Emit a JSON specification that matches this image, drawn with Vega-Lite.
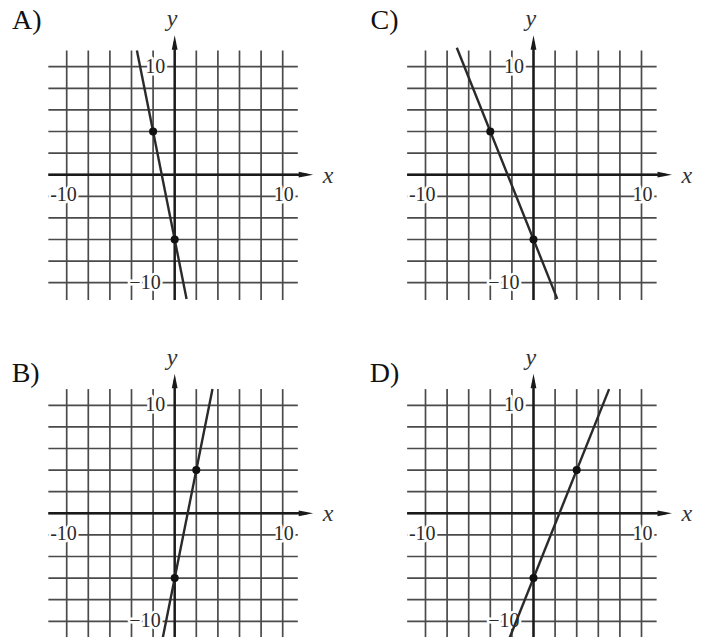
{
  "$schema": "https://vega.github.io/schema/vega-lite/v6.json",
  "padding": 0,
  "background": "white",
  "config": {"view": {"stroke": null}},
  "datasets": {
    "grid": [
      {"x": -10, "y": -11.6, "x2": -10, "y2": 11.5},
      {"x": -8, "y": -11.6, "x2": -8, "y2": 11.5},
      {"x": -6, "y": -11.6, "x2": -6, "y2": 11.5},
      {"x": -4, "y": -11.6, "x2": -4, "y2": 11.5},
      {"x": -2, "y": -11.6, "x2": -2, "y2": 11.5},
      {"x": 0, "y": -11.6, "x2": 0, "y2": 11.5},
      {"x": 2, "y": -11.6, "x2": 2, "y2": 11.5},
      {"x": 4, "y": -11.6, "x2": 4, "y2": 11.5},
      {"x": 6, "y": -11.6, "x2": 6, "y2": 11.5},
      {"x": 8, "y": -11.6, "x2": 8, "y2": 11.5},
      {"x": 10, "y": -11.6, "x2": 10, "y2": 11.5},
      {"x": -11.7, "y": -10, "x2": 11.4, "y2": -10},
      {"x": -11.7, "y": -8, "x2": 11.4, "y2": -8},
      {"x": -11.7, "y": -6, "x2": 11.4, "y2": -6},
      {"x": -11.7, "y": -4, "x2": 11.4, "y2": -4},
      {"x": -11.7, "y": -2, "x2": 11.4, "y2": -2},
      {"x": -11.7, "y": 0, "x2": 11.4, "y2": 0},
      {"x": -11.7, "y": 2, "x2": 11.4, "y2": 2},
      {"x": -11.7, "y": 4, "x2": 11.4, "y2": 4},
      {"x": -11.7, "y": 6, "x2": 11.4, "y2": 6},
      {"x": -11.7, "y": 8, "x2": 11.4, "y2": 8},
      {"x": -11.7, "y": 10, "x2": 11.4, "y2": 10}
    ],
    "axes": [
      {"x": -11.7, "y": 0, "x2": 12.2, "y2": 0},
      {"x": 0, "y": -11.6, "x2": 0, "y2": 12.3}
    ],
    "arrows": [
      {"x": 12.15, "y": 0, "dir": "r"},
      {"x": 0, "y": 12.25, "dir": "u"}
    ],
    "ticklabels": [
      {"x": 10.1, "y": -1.9, "t": "10"},
      {"x": -10.3, "y": -1.9, "t": "-10"},
      {"x": -1.8, "y": 10, "t": "10"},
      {"x": -2.75, "y": -10, "t": "\u221210"}
    ],
    "names": [
      {"x": 14.2, "y": -0.1, "t": "x"},
      {"x": -0.25, "y": 14.4, "t": "y"}
    ]
  },
  "spacing": 0,
  "vconcat": [
    {
      "spacing": 0,
      "bounds": "flush",
      "hconcat": [
        {
          "width": 359, "height": 339,
          "encoding": {
            "x": {"field": "x", "type": "quantitative", "scale": {"domain": [-16.176, 17.065], "nice": false, "zero": false}, "axis": null},
            "y": {"field": "y", "type": "quantitative", "scale": {"domain": [-15.213, 16.176], "nice": false, "zero": false}, "axis": null}
          },
          "layer": [
            {"data": {"name": "grid"}, "mark": {"type": "rule", "color": "#4a4a4a", "strokeWidth": 1.7}, "encoding": {"x2": {"field": "x2"}, "y2": {"field": "y2"}}},
            {"data": {"name": "axes"}, "mark": {"type": "rule", "color": "#1a1a1a", "strokeWidth": 2.4}, "encoding": {"x2": {"field": "x2"}, "y2": {"field": "y2"}}},
            {"data": {"name": "arrows"}, "mark": {"type": "point", "filled": true, "color": "#1a1a1a", "size": 210, "opacity": 1}, "encoding": {"shape": {"field": "dir", "type": "nominal", "scale": {"domain": ["r", "u"], "range": ["M -1 -0.4 L 1 0 L -1 0.4 Z", "M -0.4 1 L 0 -1 L 0.4 1 Z"]}, "legend": null}}},
            {"data": {"name": "ticklabels"}, "mark": {"type": "text", "font": "Liberation Serif", "fontSize": 20, "stroke": "white", "strokeWidth": 5, "strokeJoin": "round", "color": "white"}, "encoding": {"text": {"field": "t"}}},
            {"data": {"name": "ticklabels"}, "mark": {"type": "text", "font": "Liberation Serif", "fontSize": 20, "color": "#2a2a2a"}, "encoding": {"text": {"field": "t"}}},
            {"data": {"name": "names"}, "mark": {"type": "text", "font": "Liberation Serif", "fontStyle": "italic", "fontSize": 24, "color": "#333333"}, "encoding": {"text": {"field": "t"}}},
            {"data": {"values": [{"x": -3.5, "y": 11.5}, {"x": 1.1, "y": -11.5}]}, "mark": {"type": "line", "color": "#2a2a2a", "strokeWidth": 2.4}, "encoding": {}},
            {"data": {"values": [{"x": -2, "y": 4}, {"x": 0, "y": -6}]}, "mark": {"type": "circle", "color": "#111111", "size": 65, "opacity": 1}, "encoding": {}},
            {"data": {"values": [{"x": -13.7, "y": 14.2, "t": "A)"}]}, "mark": {"type": "text", "font": "Liberation Serif", "fontSize": 28, "color": "#111111"}, "encoding": {"text": {"field": "t"}}}
          ]
        },
        {
          "width": 344, "height": 339,
          "encoding": {
            "x": {"field": "x", "type": "quantitative", "scale": {"domain": [-16.157, 15.694], "nice": false, "zero": false}, "axis": null},
            "y": {"field": "y", "type": "quantitative", "scale": {"domain": [-15.213, 16.176], "nice": false, "zero": false}, "axis": null}
          },
          "layer": [
            {"data": {"name": "grid"}, "mark": {"type": "rule", "color": "#4a4a4a", "strokeWidth": 1.7}, "encoding": {"x2": {"field": "x2"}, "y2": {"field": "y2"}}},
            {"data": {"name": "axes"}, "mark": {"type": "rule", "color": "#1a1a1a", "strokeWidth": 2.4}, "encoding": {"x2": {"field": "x2"}, "y2": {"field": "y2"}}},
            {"data": {"name": "arrows"}, "mark": {"type": "point", "filled": true, "color": "#1a1a1a", "size": 210, "opacity": 1}, "encoding": {"shape": {"field": "dir", "type": "nominal", "scale": {"domain": ["r", "u"], "range": ["M -1 -0.4 L 1 0 L -1 0.4 Z", "M -0.4 1 L 0 -1 L 0.4 1 Z"]}, "legend": null}}},
            {"data": {"name": "ticklabels"}, "mark": {"type": "text", "font": "Liberation Serif", "fontSize": 20, "stroke": "white", "strokeWidth": 5, "strokeJoin": "round", "color": "white"}, "encoding": {"text": {"field": "t"}}},
            {"data": {"name": "ticklabels"}, "mark": {"type": "text", "font": "Liberation Serif", "fontSize": 20, "color": "#2a2a2a"}, "encoding": {"text": {"field": "t"}}},
            {"data": {"name": "names"}, "mark": {"type": "text", "font": "Liberation Serif", "fontStyle": "italic", "fontSize": 24, "color": "#333333"}, "encoding": {"text": {"field": "t"}}},
            {"data": {"values": [{"x": -7.1, "y": 11.75}, {"x": 2.2, "y": -11.5}]}, "mark": {"type": "line", "color": "#2a2a2a", "strokeWidth": 2.4}, "encoding": {}},
            {"data": {"values": [{"x": -4, "y": 4}, {"x": 0, "y": -6}]}, "mark": {"type": "circle", "color": "#111111", "size": 65, "opacity": 1}, "encoding": {}},
            {"data": {"values": [{"x": -13.8, "y": 14.2, "t": "C)"}]}, "mark": {"type": "text", "font": "Liberation Serif", "fontSize": 28, "color": "#111111"}, "encoding": {"text": {"field": "t"}}}
          ]
        }
      ]
    },
    {
      "spacing": 0,
      "bounds": "flush",
      "hconcat": [
        {
          "width": 359, "height": 298,
          "encoding": {
            "x": {"field": "x", "type": "quantitative", "scale": {"domain": [-16.176, 17.065], "nice": false, "zero": false}, "axis": null},
            "y": {"field": "y", "type": "quantitative", "scale": {"domain": [-11.454, 16.139], "nice": false, "zero": false}, "axis": null}
          },
          "layer": [
            {"data": {"name": "grid"}, "mark": {"type": "rule", "color": "#4a4a4a", "strokeWidth": 1.7}, "encoding": {"x2": {"field": "x2"}, "y2": {"field": "y2"}}},
            {"data": {"name": "axes"}, "mark": {"type": "rule", "color": "#1a1a1a", "strokeWidth": 2.4}, "encoding": {"x2": {"field": "x2"}, "y2": {"field": "y2"}}},
            {"data": {"name": "arrows"}, "mark": {"type": "point", "filled": true, "color": "#1a1a1a", "size": 210, "opacity": 1}, "encoding": {"shape": {"field": "dir", "type": "nominal", "scale": {"domain": ["r", "u"], "range": ["M -1 -0.4 L 1 0 L -1 0.4 Z", "M -0.4 1 L 0 -1 L 0.4 1 Z"]}, "legend": null}}},
            {"data": {"name": "ticklabels"}, "mark": {"type": "text", "font": "Liberation Serif", "fontSize": 20, "stroke": "white", "strokeWidth": 5, "strokeJoin": "round", "color": "white"}, "encoding": {"text": {"field": "t"}}},
            {"data": {"name": "ticklabels"}, "mark": {"type": "text", "font": "Liberation Serif", "fontSize": 20, "color": "#2a2a2a"}, "encoding": {"text": {"field": "t"}}},
            {"data": {"name": "names"}, "mark": {"type": "text", "font": "Liberation Serif", "fontStyle": "italic", "fontSize": 24, "color": "#333333"}, "encoding": {"text": {"field": "t"}}},
            {"data": {"values": [{"x": -1.1, "y": -11.5}, {"x": 3.5, "y": 11.5}]}, "mark": {"type": "line", "color": "#2a2a2a", "strokeWidth": 2.4}, "encoding": {}},
            {"data": {"values": [{"x": 2, "y": 4}, {"x": 0, "y": -6}]}, "mark": {"type": "circle", "color": "#111111", "size": 65, "opacity": 1}, "encoding": {}},
            {"data": {"values": [{"x": -13.8, "y": 12.9, "t": "B)"}]}, "mark": {"type": "text", "font": "Liberation Serif", "fontSize": 28, "color": "#111111"}, "encoding": {"text": {"field": "t"}}}
          ]
        },
        {
          "width": 344, "height": 298,
          "encoding": {
            "x": {"field": "x", "type": "quantitative", "scale": {"domain": [-16.157, 15.694], "nice": false, "zero": false}, "axis": null},
            "y": {"field": "y", "type": "quantitative", "scale": {"domain": [-11.454, 16.139], "nice": false, "zero": false}, "axis": null}
          },
          "layer": [
            {"data": {"name": "grid"}, "mark": {"type": "rule", "color": "#4a4a4a", "strokeWidth": 1.7}, "encoding": {"x2": {"field": "x2"}, "y2": {"field": "y2"}}},
            {"data": {"name": "axes"}, "mark": {"type": "rule", "color": "#1a1a1a", "strokeWidth": 2.4}, "encoding": {"x2": {"field": "x2"}, "y2": {"field": "y2"}}},
            {"data": {"name": "arrows"}, "mark": {"type": "point", "filled": true, "color": "#1a1a1a", "size": 210, "opacity": 1}, "encoding": {"shape": {"field": "dir", "type": "nominal", "scale": {"domain": ["r", "u"], "range": ["M -1 -0.4 L 1 0 L -1 0.4 Z", "M -0.4 1 L 0 -1 L 0.4 1 Z"]}, "legend": null}}},
            {"data": {"name": "ticklabels"}, "mark": {"type": "text", "font": "Liberation Serif", "fontSize": 20, "stroke": "white", "strokeWidth": 5, "strokeJoin": "round", "color": "white"}, "encoding": {"text": {"field": "t"}}},
            {"data": {"name": "ticklabels"}, "mark": {"type": "text", "font": "Liberation Serif", "fontSize": 20, "color": "#2a2a2a"}, "encoding": {"text": {"field": "t"}}},
            {"data": {"name": "names"}, "mark": {"type": "text", "font": "Liberation Serif", "fontStyle": "italic", "fontSize": 24, "color": "#333333"}, "encoding": {"text": {"field": "t"}}},
            {"data": {"values": [{"x": -2.2, "y": -11.5}, {"x": 7.0, "y": 11.5}]}, "mark": {"type": "line", "color": "#2a2a2a", "strokeWidth": 2.4}, "encoding": {}},
            {"data": {"values": [{"x": 4, "y": 4}, {"x": 0, "y": -6}]}, "mark": {"type": "circle", "color": "#111111", "size": 65, "opacity": 1}, "encoding": {}},
            {"data": {"values": [{"x": -13.8, "y": 12.9, "t": "D)"}]}, "mark": {"type": "text", "font": "Liberation Serif", "fontSize": 28, "color": "#111111"}, "encoding": {"text": {"field": "t"}}}
          ]
        }
      ]
    }
  ]
}
